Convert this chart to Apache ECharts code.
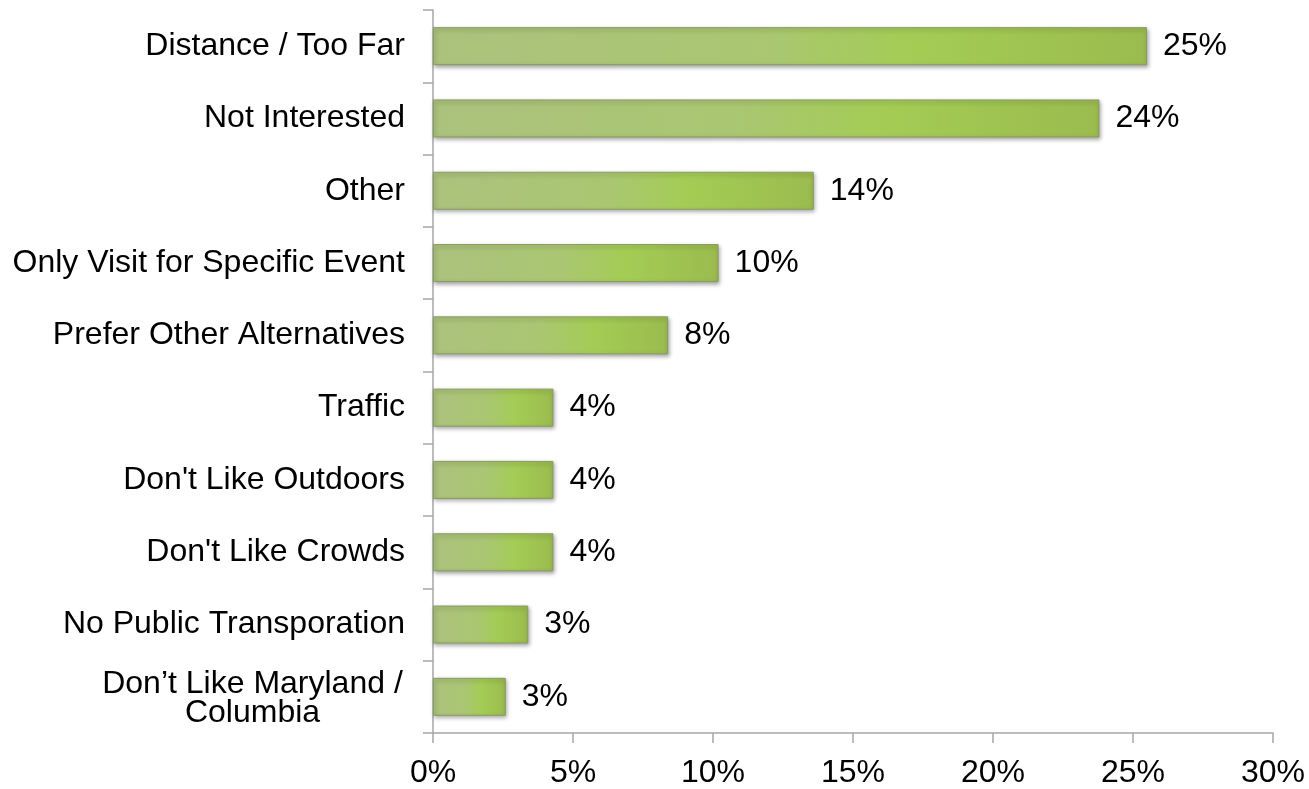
<!DOCTYPE html>
<html>
<head>
<meta charset="utf-8">
<script src="https://cdn.jsdelivr.net/npm/echarts@6/dist/echarts.min.js"></script>
<style>
  html, body { margin: 0; padding: 0; background: #ffffff; }
  #chart { width: 1309px; height: 789px; }
</style>
</head>
<body>
<div id="chart"></div>
<script>
const categories = [
  'Distance / Too Far',
  'Not Interested',
  'Other',
  'Only Visit for Specific Event',
  'Prefer Other Alternatives',
  'Traffic',
  "Don't Like Outdoors",
  "Don't Like Crowds",
  'No Public Transporation',
  'Don\u2019t Like Maryland /\nColumbia'
];
const values = [25.5, 23.8, 13.6, 10.2, 8.4, 4.3, 4.3, 4.3, 3.4, 2.6];
const valueLabels = ['25%', '24%', '14%', '10%', '8%', '4%', '4%', '4%', '3%', '3%'];
const xTicks = { min: 0, max: 30, interval: 5 };

const font = '"Liberation Sans", Arial, sans-serif';
const barGradient = {
  type: 'linear', x: 0, y: 0, x2: 1, y2: 0,
  colorStops: [
    { offset: 0, color: '#abc27c' },
    { offset: 0.45, color: '#aac672' },
    { offset: 0.68, color: '#a4cc54' },
    { offset: 1, color: '#9bbb4f' }
  ]
};

const chart = echarts.init(document.getElementById('chart'));
chart.setOption({
  animation: false,
  backgroundColor: '#ffffff',
  grid: { left: 433, right: 36, top: 10, bottom: 56, containLabel: false },
  xAxis: {
    type: 'value',
    min: xTicks.min, max: xTicks.max, interval: xTicks.interval,
    axisLine: { show: true, lineStyle: { color: '#a6a6a6', width: 1.5 } },
    axisTick: { show: true, length: 10, lineStyle: { color: '#a6a6a6', width: 1.5 } },
    splitLine: { show: false },
    axisLabel: {
      formatter: '{value}%',
      color: '#000', fontFamily: font, fontSize: 32, margin: 24
    }
  },
  yAxis: {
    type: 'category',
    inverse: true,
    data: categories,
    axisLine: { show: true, lineStyle: { color: '#a6a6a6', width: 1.5 } },
    axisTick: { show: true, length: 10, lineStyle: { color: '#a6a6a6', width: 1.5 } },
    axisLabel: {
      color: '#000', fontFamily: font, fontSize: 32, margin: 28,
      formatter: function (v) {
        if (v.indexOf('\n') >= 0) {
          return v.split('\n').map(function (s, i) { return (i === 0 ? '{a|' : '{c|') + s + '}'; }).join('\n');
        }
        return v;
      },
      rich: {
        a: { width: 305, align: 'center', color: '#000', fontFamily: font, fontSize: 32, lineHeight: 32, padding: [6, 0, 0, 0] },
        c: { width: 305, align: 'center', color: '#000', fontFamily: font, fontSize: 32, lineHeight: 32 }
      }
    }
  },
  series: [{
    type: 'bar',
    data: values,
    barWidth: 38,
    itemStyle: {
      color: barGradient,
      borderColor: '#8a9c60',
      borderWidth: 1,
      shadowBlur: 4,
      shadowOffsetX: 1,
      shadowOffsetY: 2,
      shadowColor: 'rgba(0,0,0,0.35)'
    },
    label: {
      show: true,
      position: 'right',
      distance: 16,
      color: '#000',
      fontFamily: font,
      fontSize: 32,
      formatter: function (p) { return valueLabels[p.dataIndex]; }
    }
  }]
});
</script>
</body>
</html>
